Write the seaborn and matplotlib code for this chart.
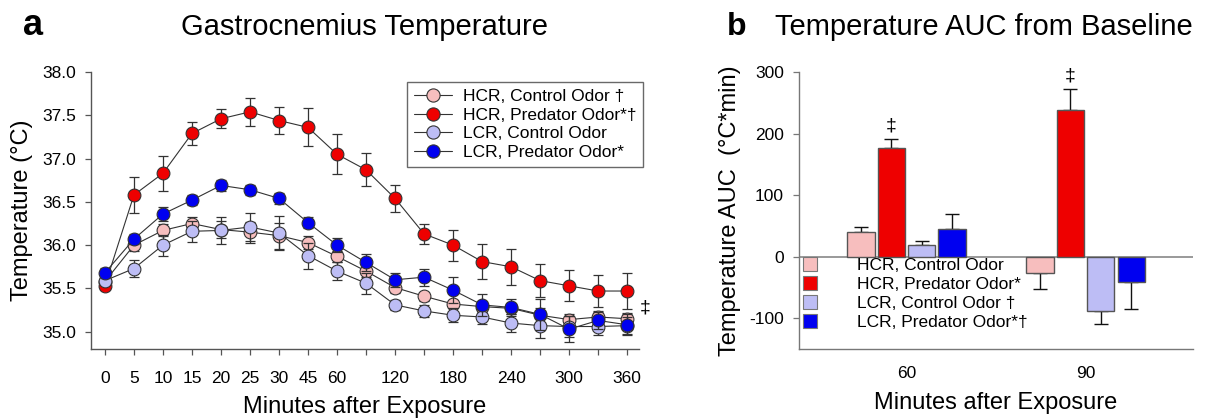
import numpy as np
import pandas as pd
import matplotlib
matplotlib.use("Agg")
import matplotlib.pyplot as plt
from matplotlib.lines import Line2D
import seaborn as sns

# datos panel a
minutes = [0, 5, 10, 15, 20, 25, 30, 45, 60, 90, 120, 150, 180, 210, 240, 270, 300, 330, 360]
shown_ticks = [0, 5, 10, 15, 20, 25, 30, 45, 60, 120, 180, 240, 300, 360]

hcr_ctrl = [35.58, 36.00, 36.17, 36.25, 36.18, 36.15, 36.11, 36.03, 35.87, 35.70, 35.51, 35.41, 35.32, 35.29, 35.27, 35.19, 35.14, 35.17, 35.15]
hcr_ctrl_err = [0.05, 0.07, 0.07, 0.07, 0.10, 0.12, 0.15, 0.07, 0.06, 0.07, 0.06, 0.05, 0.05, 0.06, 0.06, 0.08, 0.06, 0.07, 0.07]
hcr_pred = [35.53, 36.58, 36.83, 37.29, 37.46, 37.54, 37.44, 37.36, 37.05, 36.87, 36.54, 36.13, 36.00, 35.81, 35.75, 35.59, 35.53, 35.47, 35.47]
hcr_pred_err = [0.05, 0.21, 0.20, 0.13, 0.11, 0.16, 0.16, 0.22, 0.23, 0.19, 0.16, 0.12, 0.18, 0.20, 0.21, 0.19, 0.18, 0.19, 0.21]
lcr_ctrl = [35.59, 35.73, 36.00, 36.16, 36.17, 36.21, 36.14, 35.88, 35.70, 35.56, 35.31, 35.24, 35.19, 35.17, 35.10, 35.07, 35.06, 35.06, 35.07]
lcr_ctrl_err = [0.04, 0.10, 0.12, 0.12, 0.16, 0.16, 0.20, 0.15, 0.10, 0.12, 0.06, 0.07, 0.08, 0.08, 0.10, 0.14, 0.12, 0.10, 0.10]
lcr_pred = [35.68, 36.07, 36.36, 36.52, 36.69, 36.64, 36.54, 36.26, 36.00, 35.80, 35.60, 35.63, 35.48, 35.31, 35.28, 35.20, 35.03, 35.13, 35.08]
lcr_pred_err = [0.06, 0.06, 0.08, 0.06, 0.06, 0.06, 0.06, 0.06, 0.08, 0.10, 0.08, 0.10, 0.15, 0.13, 0.10, 0.18, 0.15, 0.10, 0.12]

groups = ["HCR_C", "HCR_P", "LCR_C", "LCR_P"]
colors = ["#F7BEBE", "#EE0000", "#BDBDF5", "#0000F0"]
labels_a = ["HCR, Control Odor †", "HCR, Predator Odor*†", "LCR, Control Odor", "LCR, Predator Odor*"]

# datos panel b
auc_minutes = ["60", "90"]
auc_60 = [40, 176, 19, 45]
auc_60_err = [9, 15, 6, 24]
auc_90 = [-27, 238, -88, -41]
auc_90_err = [26, 34, 22, 44]
labels_b = ["HCR, Control Odor", "HCR, Predator Odor*", "LCR, Control Odor †", "LCR, Predator Odor*†"]

sns.set_style("ticks")
plt.rcParams['font.family'] = ['Liberation Sans', 'DejaVu Sans']
plt.rcParams['text.color'] = 'black'
plt.rcParams['axes.labelcolor'] = 'black'
plt.rcParams['xtick.labelcolor'] = 'black'
plt.rcParams['ytick.labelcolor'] = 'black'
plt.rcParams['axes.unicode_minus'] = False

# tabla larga para seaborn
temp_vals = [hcr_ctrl, hcr_pred, lcr_ctrl, lcr_pred]
temp_errs = [hcr_ctrl_err, hcr_pred_err, lcr_ctrl_err, lcr_pred_err]
rows = []
for g, vals, errs in zip(groups, temp_vals, temp_errs):
    for i, (m, v, e) in enumerate(zip(minutes, vals, errs)):
        rows.append({'group': g, 'idx': i, 'minutes': m, 'temp': v, 'err': e})
temp = pd.DataFrame(rows)

auc = pd.DataFrame({
    'minutes': np.repeat(auc_minutes, 4),
    'group': groups * 2,
    'auc': auc_60 + auc_90,
    'err': auc_60_err + auc_90_err,
})

fig = plt.figure(figsize=(12.28, 4.2), dpi=100)
ax1 = fig.add_axes([0.0741, 0.169, 0.4463, 0.6595])
ax2 = fig.add_axes([0.6507, 0.169, 0.3208, 0.6595])

# Panel a
edge = '#333333'
for k, (g, c) in enumerate(zip(groups, colors)):
    d = temp[temp['group'] == g]
    sns.lineplot(data=d, x='idx', y='temp', color=edge, lw=0.8, ax=ax1, zorder=2 + k)
    ax1.errorbar(d['idx'], d['temp'], yerr=d['err'], fmt='none', ecolor=edge,
                 elinewidth=0.9, capsize=3.6, capthick=0.9, zorder=2 + k)
    sns.scatterplot(data=d, x='idx', y='temp', color=c, s=85, edgecolor=edge,
                    linewidth=0.8, ax=ax1, zorder=2.5 + k, legend=False)

ax1.set_xlim(-0.48, 18.41)
ax1.set_ylim(34.8, 38.0)
ax1.set_xticks(range(len(minutes)))
ax1.set_xticklabels([str(m) if m in shown_ticks else '' for m in minutes])
ax1.set_yticks(np.arange(35.0, 38.01, 0.5))
ax1.set_yticklabels([f"{v:.1f}" for v in np.arange(35.0, 38.01, 0.5)])
ax1.tick_params(axis='x', length=4, width=0.9, color='#555555', pad=12, labelsize=12.5)
ax1.tick_params(axis='y', length=4.5, width=0.9, color='#555555', pad=6, labelsize=12.5)
ax1.set_xlabel("Minutes after Exposure", fontsize=17, labelpad=7)
ax1.set_ylabel("Temperature (°C)", fontsize=17, labelpad=7)
sns.despine(ax=ax1)
for s in ['left', 'bottom']:
    ax1.spines[s].set_color('#555555')
    ax1.spines[s].set_linewidth(1.0)
ax1.text(18.45, 35.27, "‡", fontsize=14, ha='left', va='center', clip_on=False)

handles_a = [Line2D([0], [0], color=edge, lw=0.8, marker='o', markersize=9.5,
                    markerfacecolor=c, markeredgecolor=edge, markeredgewidth=0.8)
             for c in colors]
leg = ax1.legend(handles_a, labels_a, loc='upper left', bbox_to_anchor=(0.577, 0.964),
                 fontsize=12.5, frameon=True, fancybox=False, handlelength=2.2,
                 handletextpad=0.6, labelspacing=0.2, borderpad=0.4, borderaxespad=0)
leg.get_frame().set_edgecolor('#444444')
leg.get_frame().set_linewidth(1.0)

# Panel b
sns.barplot(data=auc, x='minutes', y='auc', hue='group', palette=colors, width=0.68,
            gap=0.1, saturation=1, edgecolor='#555555', linewidth=1.0, ax=ax2,
            legend=False, zorder=3)
for p in ax2.patches:
    h = p.get_height()
    cx = p.get_x() + p.get_width() / 2
    row = auc.loc[(auc['auc'] - h).abs() < 1e-6].iloc[0]
    e = row['err']
    yerr = [[0], [e]] if h >= 0 else [[e], [0]]
    ax2.errorbar([cx], [h], yerr=yerr, fmt='none', ecolor='#111111', elinewidth=1.0,
                 capsize=4.7, capthick=1.0, zorder=2)
    if row['group'] == 'HCR_P':
        ax2.text(cx, h + e + 8, "‡", fontsize=14, ha='center', va='bottom')

ax2.axhline(0, color='#888888', lw=1.2, zorder=1)
ax2.set_xlim(-0.6, 1.6)
ax2.set_ylim(-150, 300)
ax2.set_yticks([-100, 0, 100, 200, 300])
ax2.tick_params(axis='y', length=4, width=0.9, color='#777777', pad=7, labelsize=12.5)
ax2.tick_params(axis='x', length=0, pad=12, labelsize=12.5)
ax2.set_xlabel("Minutes after Exposure", fontsize=17, labelpad=8)
ax2.set_ylabel("Temperature AUC  (°C*min)", fontsize=17, labelpad=6)
sns.despine(ax=ax2)
for s in ['left', 'bottom']:
    ax2.spines[s].set_color('#777777')
    ax2.spines[s].set_linewidth(1.0)

handles_b = [Line2D([0], [0], linestyle='none', marker='s', markersize=9.5,
                    markerfacecolor=c, markeredgecolor='#777777', markeredgewidth=0.8)
             for c in colors]
ax2.legend(handles_b, labels_b, loc='upper left', bbox_to_anchor=(0.005, 0.33),
           fontsize=12.5, frameon=False, handlelength=1.0, handletextpad=2.2,
           labelspacing=0.22, borderpad=0, borderaxespad=0)

# títulos y letras
fig.text(0.019, 1 - 35 / 420, "a", fontsize=26, fontweight='bold', va='baseline')
fig.text(0.297, 1 - 35 / 420, "Gastrocnemius Temperature", fontsize=21, ha='center', va='baseline')
fig.text(0.592, 1 - 35 / 420, "b", fontsize=23, fontweight='bold', va='baseline')
fig.text(0.801, 1 - 35 / 420, "Temperature AUC from Baseline", fontsize=21, ha='center', va='baseline')

fig.savefig("out.png", dpi=100)
